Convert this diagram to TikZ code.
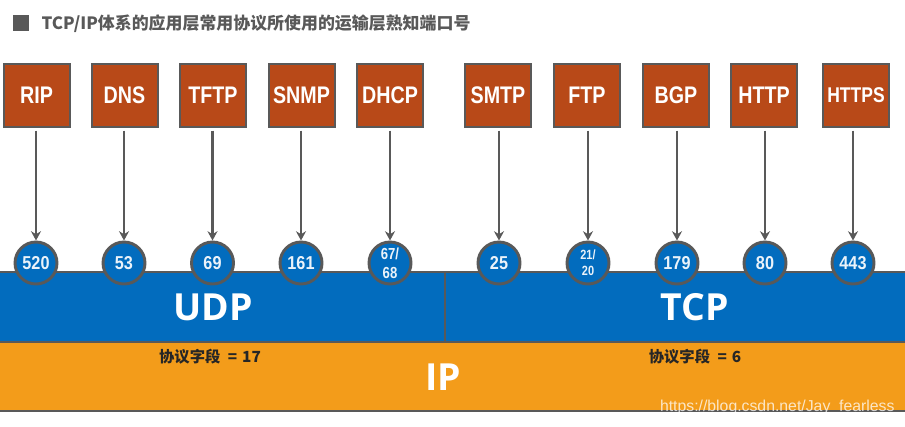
\documentclass[tikz,border=0pt]{standalone}
\usepackage{fontspec}
\usetikzlibrary{arrows.meta}
\setmainfont{Liberation Sans}
\newfontfamily\titlefont{Open Sans}
\newfontfamily\cjk{Noto Sans CJK SC}
\definecolor{boxfill}{RGB}{184,73,24}
\definecolor{linegray}{RGB}{89,89,89}
\definecolor{bandblue}{RGB}{2,108,190}
\definecolor{bandorange}{RGB}{243,156,26}
\definecolor{bandtext}{RGB}{235,243,250}
\tikzset{every picture/.style={line width=0.75pt}}
\tikzset{
  protobox/.style={draw=linegray,fill=boxfill,line width=1.5pt,minimum width=49.5pt,minimum height=47.25pt,inner sep=0pt,text=white},
  portnode/.style={circle,draw=linegray,fill=bandblue,line width=2.2pt,minimum size=31.5pt,inner sep=0pt,text=bandtext,align=center},
  protolink/.style={draw=linegray,line width=1.6pt,shorten <=2pt,-{Stealth[length=7pt,width=7.5pt]}},
  bandline/.style={color=linegray,line width=2pt},
  bandlabel/.style={text=white,font=\titlefont\bfseries\fontsize{28}{28}\selectfont,inner sep=0pt},
  fieldlabel/.style={text=black!85,font=\cjk\bfseries\fontsize{11.5}{11.5}\selectfont,inner sep=0pt}
}

\begin{document}
\begin{tikzpicture}[x=0.75pt,y=0.75pt,yscale=-1,xscale=1]
\useasboundingbox (0,0) rectangle (905,426);

%Bands
\draw [draw=none,fill=bandblue] (0,272) rectangle (905,342) ;
\draw [draw=none,fill=bandorange] (0,342) rectangle (905,411) ;
\draw [bandline] (0,272) -- (905,272) ;
\draw [bandline] (0,342) -- (905,342) ;
\draw [bandline] (0,411) -- (905,411) ;
\draw [bandline] (445,272) -- (445,342) ;

%Title
\draw [draw=none,fill=linegray] (13,15) rectangle (29,31) ;
\node (title) [anchor=west,inner sep=0pt,text=linegray,font=\cjk\bfseries\fontsize{12.7}{12.7}\selectfont] at (41,24) {TCP/IP体系的应用层常用协议所使用的运输层熟知端口号};

%Application protocols
\foreach \name/\px/\lbl in {rip/36.5/RIP,dns/124.5/DNS,tftp/213/TFTP,snmp/301.5/SNMP,dhcp/390/DHCP,smtp/498/SMTP,ftp/587/FTP,bgp/676/BGP,http/764/HTTP}
  \node (\name) [protobox,font=\bfseries\fontsize{18}{18}\selectfont] at (\px,95.5) {\scalebox{0.82}[1]{\lbl}};
\node (https) [protobox,font=\bfseries\fontsize{16}{16}\selectfont] at (856,95.5) {\scalebox{0.82}[1]{HTTPS}};

%Ports
\foreach \name/\px/\lbl in {p520/36/520,p53/124/53,p69/212.5/69,p161/301/161,p25/499/25,p179/677/179,p80/765/80,p443/853/443}
  \node (\name) [portnode,font=\bfseries\fontsize{14}{14}\selectfont] at (\px,263) {\scalebox{0.87}[1]{\lbl}};
\node (p67) [portnode,font=\bfseries\fontsize{12}{14}\selectfont] at (390,263) {\scalebox{0.82}[1]{67/}\\\scalebox{0.82}[1]{68}};
\node (p21) [portnode,font=\bfseries\fontsize{10}{12}\selectfont] at (588,263) {\scalebox{0.82}[1]{21/}\\\scalebox{0.82}[1]{20}};

%Straight Lines
\draw [protolink] (p520.north |- rip.south) -- (p520.north) ;
\draw [protolink] (p53.north |- dns.south) -- (p53.north) ;
\draw [protolink] (p69.north |- tftp.south) -- (p69.north) ;
\draw [protolink] (p161.north |- snmp.south) -- (p161.north) ;
\draw [protolink] (p67.north |- dhcp.south) -- (p67.north) ;
\draw [protolink] (p25.north |- smtp.south) -- (p25.north) ;
\draw [protolink] (p21.north |- ftp.south) -- (p21.north) ;
\draw [protolink] (p179.north |- bgp.south) -- (p179.north) ;
\draw [protolink] (p80.north |- http.south) -- (p80.north) ;
\draw [protolink] (p443.north |- https.south) -- (p443.north) ;

% Text Node
\node (udp) [bandlabel] at (213,307) {UDP};
\node (tcp) [bandlabel] at (695,307) {TCP};
\node (ip) [bandlabel] at (443,377) {IP};
\node (fieldudp) [fieldlabel] at (210,357) {协议字段\hspace{3pt} = \hspace{1pt}17};
\node (fieldtcp) [fieldlabel] at (695,357) {协议字段\hspace{3pt} = \hspace{1pt}6};
\node (mark) [anchor=east,inner sep=0pt,text=white,opacity=0.75,font=\fontsize{11.85}{11.85}\selectfont] at (895,407) {https://blog.csdn.net/Jay\_fearless};

\end{tikzpicture}
\end{document}
